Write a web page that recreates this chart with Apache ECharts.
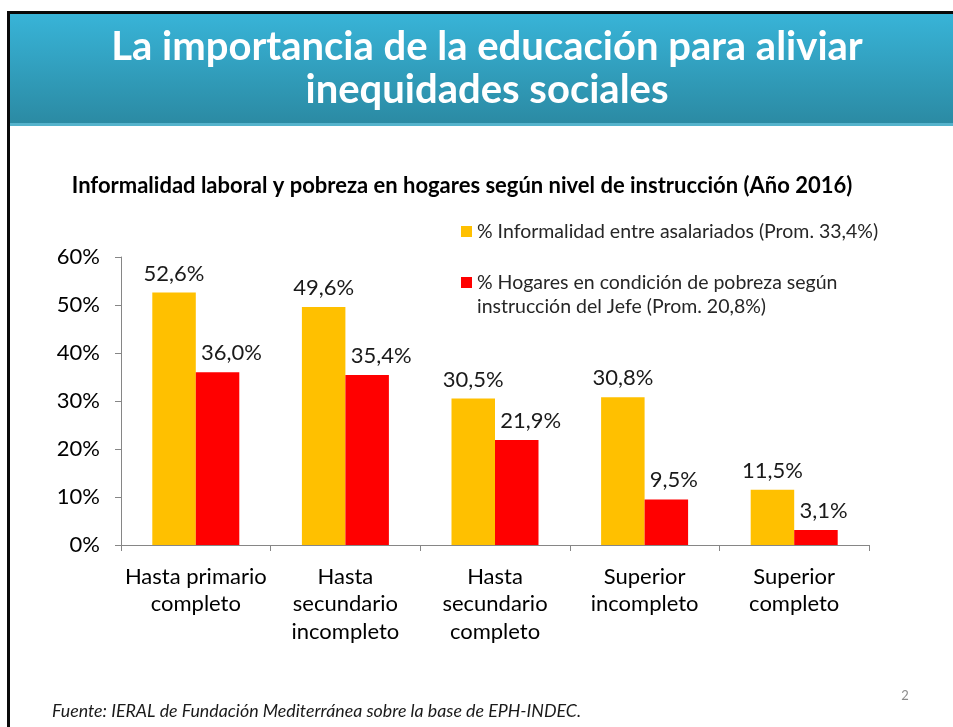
<!DOCTYPE html>
<html><head><meta charset="utf-8">
<script src="https://cdn.jsdelivr.net/npm/echarts@6/dist/echarts.min.js"></script>
<style>html,body{margin:0;padding:0;background:#fff}#c{width:953px;height:727px}</style>
</head><body><div id="c"></div>
<script>
const categories = ['Hasta primario\ncompleto','Hasta\nsecundario\nincompleto','Hasta\nsecundario\ncompleto','Superior\nincompleto','Superior\ncompleto'];
const informalidad = [52.6, 49.6, 30.5, 30.8, 11.5];
const pobreza = [36.0, 35.4, 21.9, 9.5, 3.1];
const yTicks = [0, 10, 20, 30, 40, 50, 60];
const seriesNames = ['% Informalidad entre asalariados (Prom. 33,4%)', '% Hogares en condición de pobreza según\ninstrucción del Jefe (Prom. 20,8%)'];
const titleLines = ['La importancia de la educación para aliviar', 'inequidades sociales'];
const chartTitle = 'Informalidad laboral y pobreza en hogares según nivel de instrucción (Año 2016)';
const source = 'Fuente: IERAL de Fundación Mediterránea sobre la base de EPH-INDEC.';

const F = 'Lato, "Open Sans", sans-serif';
const chart = echarts.init(document.getElementById('c'), null, {renderer: 'canvas'});
const fmt = v => v.toFixed(1).replace('.', ',') + '%';
const lab = {show: true, position: 'top', distance: 8, formatter: p => fmt(p.value), fontFamily: F, fontSize: 22, color: '#1a1a1a'};

chart.setOption({
  animation: false,
  graphic: [
    {type: 'rect', shape: {x: 9, y: 13, width: 944, height: 111}, style: {fill: new echarts.graphic.LinearGradient(0, 0, 0, 1, [{offset: 0, color: '#38b4d8'}, {offset: 1, color: '#2b8aa3'}])}},
    {type: 'rect', shape: {x: 9, y: 123, width: 944, height: 3}, style: {fill: '#55b3cc'}},
    {type: 'rect', shape: {x: 7, y: 11, width: 946, height: 3}, style: {fill: '#0a0a0a'}},
    {type: 'rect', shape: {x: 7, y: 11, width: 3, height: 716}, style: {fill: '#0a0a0a'}},
    {type: 'text', x: 487, y: 47, style: {text: titleLines[0], fill: '#fff', font: 'bold 40px ' + F, textAlign: 'center', textVerticalAlign: 'middle'}},
    {type: 'text', x: 487, y: 90, style: {text: titleLines[1], fill: '#fff', font: 'bold 40px ' + F, textAlign: 'center', textVerticalAlign: 'middle'}},
    {type: 'text', x: 462, y: 186, style: {text: chartTitle, fill: '#000', font: 'bold 22px ' + F, textAlign: 'center', textVerticalAlign: 'middle'}},
    {type: 'rect', shape: {x: 461, y: 226, width: 11, height: 11}, style: {fill: '#FFC000'}},
    {type: 'text', x: 477, y: 232, style: {text: seriesNames[0], fill: '#262626', font: '19.5px ' + F, textVerticalAlign: 'middle'}},
    {type: 'rect', shape: {x: 461, y: 277, width: 11, height: 11}, style: {fill: '#FF0000'}},
    {type: 'text', x: 477, y: 271, style: {text: seriesNames[1], fill: '#262626', font: '19.5px ' + F, lineHeight: 24, textVerticalAlign: 'top'}},
    {type: 'text', x: 52, y: 711, style: {text: source, fill: '#1a1a1a', font: 'italic 17.8px ' + F, textVerticalAlign: 'middle'}},
    {type: 'text', x: 905, y: 696, style: {text: '2', fill: '#8c8c8c', font: '13px ' + F, textAlign: 'center', textVerticalAlign: 'middle'}}
  ],
  grid: {left: 121, right: 84, top: 257, bottom: 182, containLabel: false},
  xAxis: {
    type: 'category', data: categories,
    axisLine: {lineStyle: {color: '#868686', width: 1}},
    axisTick: {show: true, length: 6, lineStyle: {color: '#868686'}},
    axisLabel: {fontFamily: F, fontSize: 22, lineHeight: 27.5, color: '#000', margin: 18, interval: 0}
  },
  yAxis: {
    type: 'value', min: 0, max: 60, interval: 10,
    axisLine: {show: true, lineStyle: {color: '#868686', width: 1}},
    axisTick: {show: true, length: 6, lineStyle: {color: '#868686'}},
    splitLine: {show: false},
    axisLabel: {fontFamily: F, fontSize: 22, color: '#000', margin: 21, formatter: v => yTicks.includes(v) ? v + '%' : ''}
  },
  series: [
    {name: seriesNames[0], type: 'bar', data: informalidad, barWidth: 43.5, barGap: '0%', itemStyle: {color: '#FFC000'}, label: lab},
    {name: seriesNames[1], type: 'bar', data: pobreza, barWidth: 43.5, barGap: '0%', itemStyle: {color: '#FF0000'}, label: Object.assign({}, lab, {align: 'left', offset: [-16.5, 0]})}
  ]
});
</script></body></html>
